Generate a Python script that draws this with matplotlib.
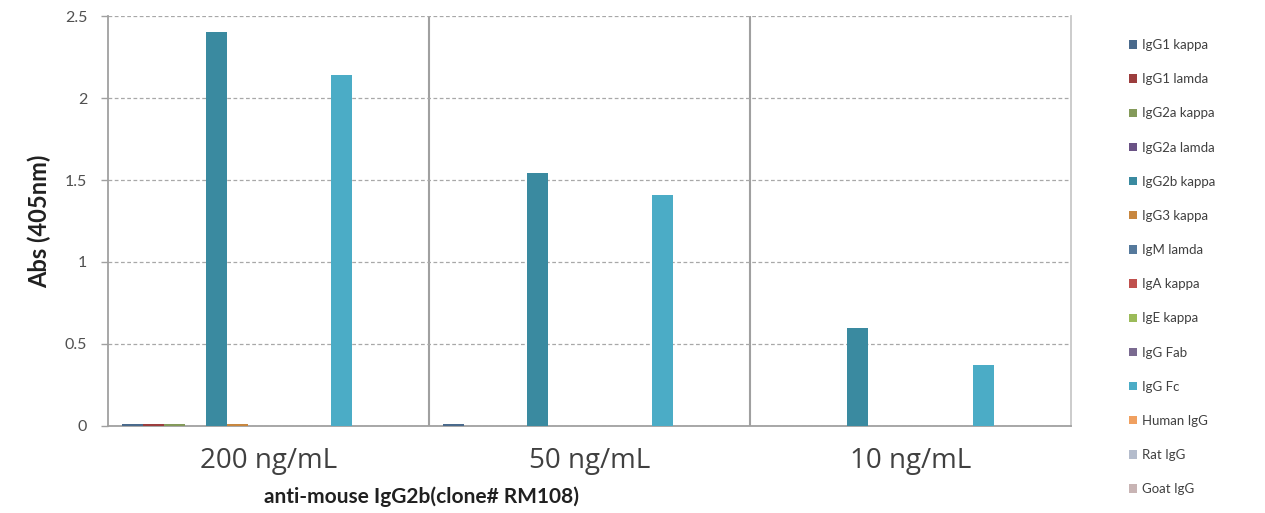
import numpy as np
import matplotlib
matplotlib.use("Agg")
import matplotlib.pyplot as plt
from matplotlib.patches import Patch

plt.rcParams['font.family'] = ['Lato', 'DejaVu Sans']

concentrations = ["200 ng/mL", "50 ng/mL", "10 ng/mL"]
isotypes = ["IgG1 kappa", "IgG1 lamda", "IgG2a kappa", "IgG2a lamda", "IgG2b kappa",
            "IgG3 kappa", "IgM lamda", "IgA kappa", "IgE kappa", "IgG Fab",
            "IgG Fc", "Human IgG", "Rat IgG", "Goat IgG"]
colors = ["#4a6a8c", "#9c3d3d", "#849a5a", "#6a5285", "#3a8aa0",
          "#c8873f", "#55799c", "#c0504d", "#9bbb59", "#7a6a90",
          "#4bacc6", "#f0a060", "#b4bccc", "#c8b4b4"]

# absorbance per isotype, one value per concentration
abs_200 = [0.01, 0.01, 0.01, 0, 2.40, 0.01, 0, 0, 0, 0, 2.14, 0, 0, 0]
abs_50 = [0.01, 0, 0, 0, 1.545, 0, 0, 0, 0, 0, 1.41, 0, 0, 0]
abs_10 = [0, 0, 0, 0, 0.60, 0, 0, 0, 0, 0, 0.37, 0, 0, 0]
values = np.array([abs_200, abs_50, abs_10])

fig = plt.figure(figsize=(12.65, 5.13), dpi=100)
ax = fig.add_axes([0.0854, 0.1696, 0.7612, 0.7992])

n = len(isotypes)
w = 0.0654
x = np.arange(len(concentrations))
for j in range(n):
    ax.bar(x - n * w / 2 + (j + 0.5) * w, values[:, j], width=w, color=colors[j],
           edgecolor='none', zorder=3)

ax.set_xlim(-0.5, 2.5)
ax.set_ylim(0, 2.5)
ax.set_yticks([0, 0.5, 1, 1.5, 2, 2.5])
ax.set_yticklabels(["0", "0.5", "1", "1.5", "2", "2.5"])
ax.yaxis.grid(True, linestyle=(0, (3, 2)), color='#a8a8a8', linewidth=0.9, zorder=0)
for b in [0.5, 1.5]:
    ax.axvline(b, color='#a0a0a0', linewidth=1.5, zorder=1)

ax.set_xticks(x)
ax.set_xticklabels(concentrations, fontsize=20, color='#404040', family=['Open Sans', 'DejaVu Sans'])
ax.tick_params(axis='x', length=0, pad=15)
ax.tick_params(axis='y', length=5, width=1, color='#a0a0a0', labelsize=11.5,
               labelcolor='#505050', pad=10)

for s in ['left', 'bottom', 'right']:
    ax.spines[s].set_color('#a0a0a0')
    ax.spines[s].set_linewidth(1.3)
ax.spines['right'].set_color('#c8c8c8')
ax.spines['top'].set_visible(False)

ax.set_ylabel("Abs (405nm)", fontsize=17, fontweight='bold', color='#202020', labelpad=10)
fig.text(421 / 1265, 1 - 497 / 513, "anti-mouse IgG2b(clone# RM108)", fontsize=15,
         fontweight='bold', color='#202020', ha='center', va='center')

handles = [Patch(facecolor=c, edgecolor='none') for c in colors]
fig.legend(handles, isotypes, loc='upper left', bbox_to_anchor=(0.883, 0.947),
           frameon=False, fontsize=9.5, labelcolor='#404040', handlelength=0.6,
           handleheight=0.6, handletextpad=0.4, labelspacing=1.68)

fig.savefig("out.png", dpi=100)
